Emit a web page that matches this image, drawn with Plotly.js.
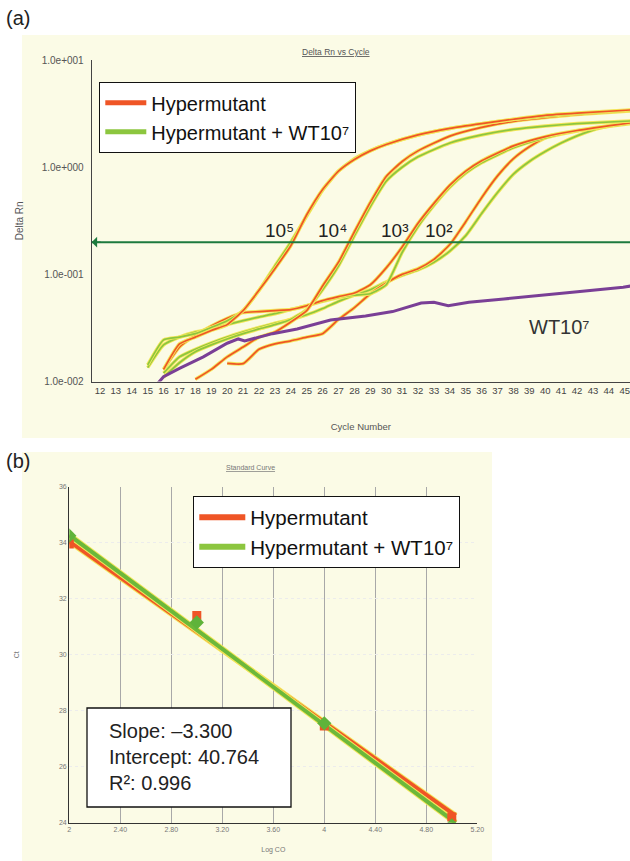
<!DOCTYPE html>
<html><head><meta charset="utf-8">
<script src="https://cdn.plot.ly/plotly-3.0.1.min.js"></script>
<style>html,body{margin:0;padding:0;background:#fff}#chart{width:630px;height:861px}</style>
</head><body><div id="chart"></div>
<script>
// ---------- Panel (a): Delta Rn vs Cycle ----------
const cycleTicks = [12,13,14,15,16,17,18,19,20,21,22,23,24,25,26,27,28,29,30,31,32,33,34,35,36,37,38,39,40,41,42,43,44,45];
const rnTickVals = [0.01, 0.1, 1, 10];
const rnTickText = ['1.0e-002', '1.0e-001', '1.0e+000', '1.0e+001'];
const threshold = 0.2;

// 10^5
const h5Cycle = [16,17,18,19,20,21,22,23,24,25,26,27,28,29,30,32,34,36,38,40,42,45.4];
const h5Rn    = [0.013,0.0225,0.026,0.030,0.034,0.046,0.071,0.113,0.185,0.36,0.62,0.92,1.18,1.42,1.63,2.0,2.3,2.55,2.8,3.05,3.2,3.42];
const g5Cycle = [15,16,17,18,19,20,21,22,23,24,25,26,27,28,29,30,32,34,36,38,40,42,45.4];
const g5Rn    = [0.0143,0.0245,0.026,0.028,0.032,0.037,0.046,0.071,0.12,0.2,0.35,0.61,0.92,1.2,1.43,1.63,2.0,2.3,2.55,2.78,2.98,3.15,3.38];
// 10^4
const h4Cycle = [18,19,20,21,22,23,24,25,26,27,28,29,30,31,32,34,36,38,40,42,45.4];
const h4Rn    = [0.0105,0.013,0.017,0.021,0.026,0.029,0.036,0.046,0.078,0.13,0.25,0.47,0.82,1.13,1.42,1.95,2.35,2.68,2.9,3.1,3.35];
const g4Cycle = [16,17,18,19,20,21,22,23,24,25,26,27,28,29,30,31,32,34,36,38,40,42,45.4];
const g4Rn    = [0.011,0.015,0.019,0.022,0.025,0.028,0.031,0.034,0.038,0.047,0.072,0.12,0.23,0.43,0.74,1.0,1.25,1.68,2.0,2.25,2.42,2.55,2.7];
// 10^3
const h3Cycle = [16,17,18,19,20,21,22,23,24,25,26,27,28,29,30,31,32,33,34,35,36,38,40,42,45.4];
const h3Rn    = [0.013,0.021,0.027,0.033,0.039,0.044,0.045,0.046,0.047,0.051,0.057,0.062,0.067,0.08,0.115,0.18,0.3,0.46,0.68,0.92,1.15,1.58,1.93,2.2,2.6];
const g3Cycle = [15,16,17,18,19,20,21,22,23,24,25,26,27,28,29,30,31,32,33,34,35,36,38,40,42,45.4];
const g3Rn    = [0.0135,0.022,0.026,0.029,0.031,0.034,0.037,0.040,0.043,0.047,0.051,0.056,0.061,0.064,0.066,0.08,0.16,0.28,0.44,0.65,0.88,1.1,1.52,1.88,2.18,2.55];
// 10^2
const h2Cycle = [20,21,22,23,24,25,26,27,28,29,30,31,32,33,34,35,36,37,38,39,40,40.5];
const h2Rn    = [0.0148,0.0147,0.020,0.0225,0.024,0.026,0.028,0.038,0.049,0.066,0.083,0.10,0.113,0.138,0.19,0.31,0.52,0.83,1.2,1.55,1.88,2.0];
const g2Cycle = [16,17,18,19,20,21,22,23,24,25,26,27,28,29,30,31,32,33,34,35,36,37,38,39,40,41,42,43,44,45.4];
const g2Rn    = [0.012,0.017,0.020,0.023,0.026,0.029,0.032,0.035,0.038,0.042,0.048,0.056,0.064,0.072,0.085,0.098,0.11,0.13,0.165,0.23,0.37,0.58,0.86,1.13,1.4,1.68,1.96,2.22,2.43,2.68];
// WT 10^7 only
const wtCycle = [15.6,16,17,18.5,20,20.7,21.1,22.85,24.4,26.5,28.7,30.4,32.2,33,33.9,35.2,37.4,39.5,41.7,44.9,45.4];
const wtRn    = [0.0095,0.0111,0.0133,0.017,0.0228,0.025,0.024,0.028,0.031,0.0376,0.041,0.045,0.054,0.055,0.051,0.055,0.059,0.063,0.068,0.076,0.078];

const dilutionLabels = ['10\u2075', '10\u2074', '10\u00B3', '10\u00B2'];

// ---------- Panel (b): Standard curve ----------
const logCO = [2, 3, 4, 5];
const ctHyp = [33.95, 31.4, 27.45, 24.2];
const ctHypWT = [34.25, 31.15, 27.55, 23.9];
const fitX = [2, 5.03];
const fitHyp = [34.05, 24.25];
const fitHypWT = [34.27, 24.0];
const logTickVals = [2, 2.4, 2.8, 3.2, 3.6, 4, 4.4, 4.8, 5.2];
const logTickText = ['2', '2.40', '2.80', '3.20', '3.60', '4', '4.40', '4.80', '5.20'];
const ctTickVals = [24, 26, 28, 30, 32, 34, 36];
const statsLines = ['Slope: \u20133.300', 'Intercept: 40.764', 'R\u00B2: 0.996'];

const NAME_H = 'Hypermutant', NAME_HW = 'Hypermutant + WT10\u2077';
const RED = '#ef5526', GREEN = '#8cc63f', HALO = '#f3e65a', PURPLE = '#7a3f96', THR = '#1d7a3e';
const FONT = 'Liberation Sans, Arial, sans-serif';
const W = 630, H = 861;
const px = v => v / W, py = v => 1 - v / H;

function curve(x, y, color, w) {
  return [
    {x, y, xaxis: 'x', yaxis: 'y', mode: 'lines', line: {color: HALO, width: w + 1.8, shape: 'spline', smoothing: 0.5}, showlegend: false, hoverinfo: 'skip'},
    {x, y, xaxis: 'x', yaxis: 'y', mode: 'lines', line: {color, width: w, shape: 'spline', smoothing: 0.5}, showlegend: false}
  ];
}

const traces = [];
[[g2Cycle, g2Rn, GREEN], [h2Cycle, h2Rn, RED], [g3Cycle, g3Rn, GREEN], [h3Cycle, h3Rn, RED],
 [g4Cycle, g4Rn, GREEN], [h4Cycle, h4Rn, RED], [g5Cycle, g5Rn, GREEN], [h5Cycle, h5Rn, RED]]
 .forEach(c => traces.push(...curve(c[0], c[1], c[2], 1.7)));
traces.push({x: wtCycle, y: wtRn, xaxis: 'x', yaxis: 'y', mode: 'lines', line: {color: PURPLE, width: 3}, showlegend: false, name: 'WT10\u2077'});
traces.push({x: [cycleTicks[0] - 0.52, 45.4], y: [threshold, threshold], xaxis: 'x', yaxis: 'y', mode: 'lines', line: {color: THR, width: 2}, showlegend: false, name: 'Threshold'});
// legend entries (a)
traces.push({x: [null], y: [null], xaxis: 'x', yaxis: 'y', mode: 'lines', line: {color: RED, width: 5}, name: NAME_H, legend: 'legend'});
traces.push({x: [null], y: [null], xaxis: 'x', yaxis: 'y', mode: 'lines', line: {color: GREEN, width: 5}, name: NAME_HW, legend: 'legend'});

// panel (b)
traces.push({x: fitX, y: fitHyp, xaxis: 'x2', yaxis: 'y2', mode: 'lines', line: {color: HALO, width: 6}, showlegend: false, hoverinfo: 'skip'});
traces.push({x: fitX, y: fitHyp, xaxis: 'x2', yaxis: 'y2', mode: 'lines', line: {color: RED, width: 4}, showlegend: false});
traces.push({x: fitX, y: fitHypWT, xaxis: 'x2', yaxis: 'y2', mode: 'lines', line: {color: HALO, width: 6}, showlegend: false, hoverinfo: 'skip'});
traces.push({x: fitX, y: fitHypWT, xaxis: 'x2', yaxis: 'y2', mode: 'lines', line: {color: '#6cb83a', width: 4}, showlegend: false});
traces.push({x: logCO, y: ctHyp, xaxis: 'x2', yaxis: 'y2', mode: 'markers', marker: {symbol: 'square', size: 9, color: RED}, showlegend: false, name: NAME_H});
traces.push({x: logCO, y: ctHypWT, xaxis: 'x2', yaxis: 'y2', mode: 'markers', marker: {symbol: 'diamond', size: 11, color: '#5fb33a'}, showlegend: false, name: NAME_HW});
traces.push({x: [null], y: [null], xaxis: 'x2', yaxis: 'y2', mode: 'lines', line: {color: RED, width: 6}, name: NAME_H, legend: 'legend2'});
traces.push({x: [null], y: [null], xaxis: 'x2', yaxis: 'y2', mode: 'lines', line: {color: GREEN, width: 6}, name: NAME_HW, legend: 'legend2'});

const tickFontA = {family: FONT, size: 9.5, color: '#444'};
const tickFontAy = {family: FONT, size: 10, color: '#555'};
const tickFontB = {family: FONT, size: 7, color: '#777'};

const annotations = [
  {text: '(a)', xref: 'paper', yref: 'paper', x: px(4), y: py(18), xanchor: 'left', yanchor: 'middle', showarrow: false, font: {family: FONT, size: 20, color: '#222'}},
  {text: '(b)', xref: 'paper', yref: 'paper', x: px(4), y: py(461), xanchor: 'left', yanchor: 'middle', showarrow: false, font: {family: FONT, size: 20, color: '#222'}},
  {text: '<u>Delta Rn vs Cycle</u>', xref: 'paper', yref: 'paper', x: px(336), y: py(45), showarrow: false, font: {family: FONT, size: 8.5, color: '#555'}},
  {text: '<u>Standard Curve</u>', xref: 'paper', yref: 'paper', x: px(251), y: py(467), showarrow: false, font: {family: FONT, size: 7, color: '#777'}},
  {text: ' ', xref: 'x', yref: 'y', x: cycleTicks[0] - 0.52, y: Math.log10(threshold), ax: 12, ay: 0, showarrow: true, arrowhead: 1, arrowsize: 1.2, arrowwidth: 1.5, arrowcolor: THR},
  {text: 'WT10\u2077', xref: 'x', yref: 'y', x: 40.9, y: Math.log10(0.0325), showarrow: false, font: {family: FONT, size: 20, color: '#333'}},
  {text: statsLines.join('<br>'), xref: 'paper', yref: 'paper', x: px(107), y: py(757), xanchor: 'left', yanchor: 'middle', align: 'left', showarrow: false, font: {family: FONT, size: 20, color: '#222'}}
];
const labelCycles = [23.3, 26.6, 30.5, 33.3];
dilutionLabels.forEach((t, i) => annotations.push({text: t, xref: 'x', yref: 'y', x: labelCycles[i], y: Math.log10(threshold), yanchor: 'bottom', yshift: -1, showarrow: false, font: {family: FONT, size: 19, color: '#222'}}));

const layout = {
  width: W, height: H, margin: {l: 0, r: 0, t: 0, b: 0},
  paper_bgcolor: '#ffffff', plot_bgcolor: '#ffffff',
  showlegend: true,
  xaxis: {domain: [px(91.7), 1], range: [11.48, 45.33], anchor: 'y', tickvals: cycleTicks, ticks: '', tickfont: tickFontA,
          ticklabeloverflow: 'allow', showgrid: false, zeroline: false, showline: true, linecolor: '#444', linewidth: 1,
          title: {text: 'Cycle Number', font: {family: FONT, size: 9.5, color: '#555'}, standoff: 28}},
  yaxis: {domain: [py(381.6), py(60)], type: 'log', range: [-2, 1], anchor: 'x', tickvals: rnTickVals, ticktext: rnTickText, ticks: '',
          ticklabelstandoff: 5, tickfont: tickFontAy, showgrid: false, zeroline: false, showline: true, linecolor: '#444', linewidth: 1,
          title: {text: 'Delta Rn', font: {family: FONT, size: 10, color: '#555'}, standoff: 16}},
  xaxis2: {domain: [px(69.3), px(477.3)], range: [2, 5.2], anchor: 'y2', tickvals: logTickVals, ticktext: logTickText, ticks: '',
           tickfont: tickFontB, showgrid: true, gridcolor: '#a8a8a8', gridwidth: 1, zeroline: false, showline: true, linecolor: '#333', linewidth: 1.2,
           title: {text: 'Log CO', font: {family: FONT, size: 7, color: '#777'}, standoff: 14}},
  yaxis2: {domain: [py(822.7), py(486.7)], range: [24, 36], anchor: 'x2', tickvals: ctTickVals, ticks: '', tickfont: tickFontB,
           showgrid: true, gridcolor: '#ececec', griddash: 'dot', zeroline: false, showline: true, linecolor: '#333', linewidth: 1.2,
           title: {text: 'Ct', font: {family: FONT, size: 7, color: '#777'}, standoff: 38}},
  legend: {x: px(99), y: py(82), xanchor: 'left', yanchor: 'top', bgcolor: '#ffffff', bordercolor: '#111', borderwidth: 1.3,
           font: {family: FONT, size: 20, color: '#111'}, itemwidth: 41, tracegroupgap: 0},
  legend2: {x: px(193), y: py(496), xanchor: 'left', yanchor: 'top', bgcolor: '#ffffff', bordercolor: '#111', borderwidth: 1.3,
           font: {family: FONT, size: 20.5, color: '#111'}, itemwidth: 46, tracegroupgap: 0},
  shapes: [
    {type: 'rect', xref: 'paper', yref: 'paper', x0: px(22), x1: 1, y0: py(438), y1: py(35), fillcolor: '#fbfbe6', line: {width: 0}, layer: 'below'},
    {type: 'rect', xref: 'paper', yref: 'paper', x0: px(22), x1: px(492), y0: 0, y1: py(452), fillcolor: '#fbfbe6', line: {width: 0}, layer: 'below'},
    {type: 'rect', xref: 'paper', yref: 'paper', x0: px(87), x1: px(291), y0: py(807), y1: py(708), fillcolor: '#ffffff', line: {color: '#111', width: 1.3}, layer: 'above'}
  ],
  annotations
};
Plotly.newPlot('chart', traces, layout, {staticPlot: true, displayModeBar: false});
</script></body></html>
